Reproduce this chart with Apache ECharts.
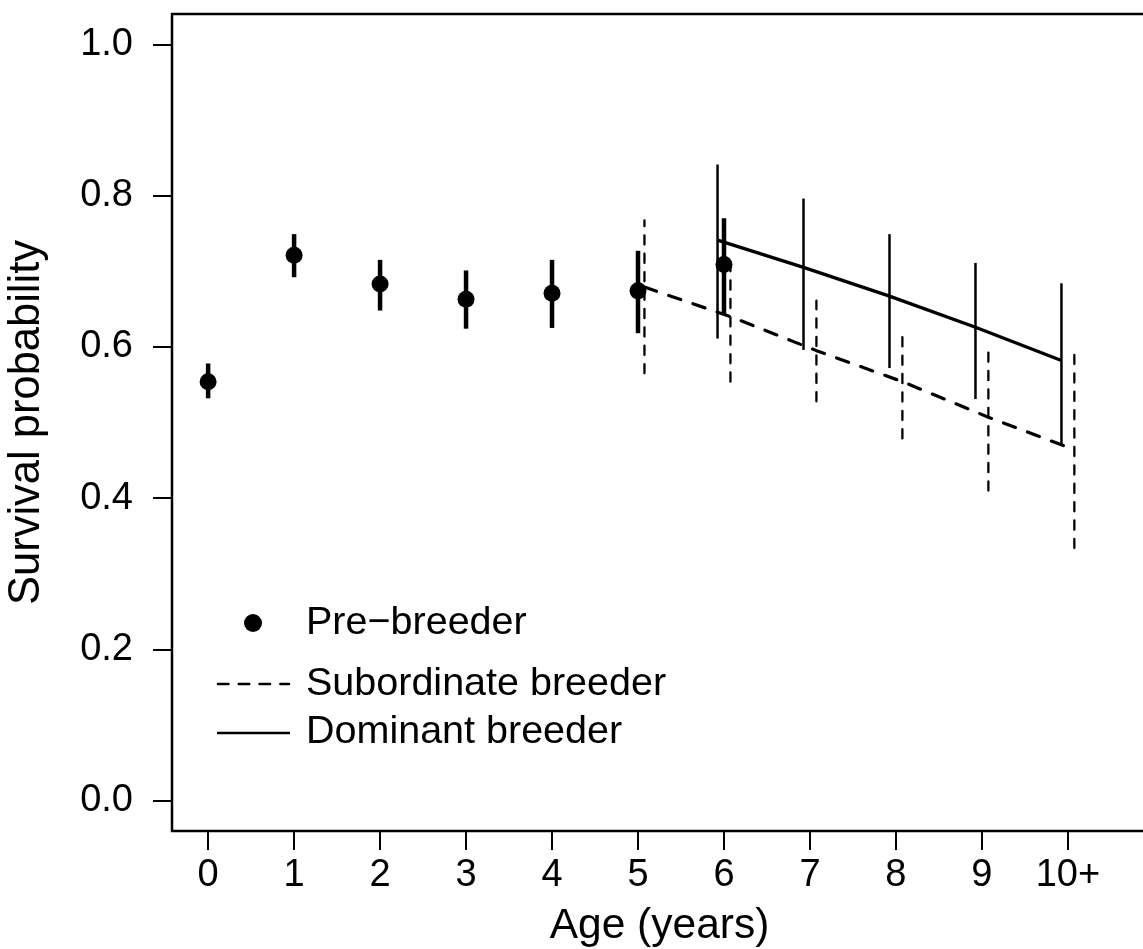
<!DOCTYPE html>
<html>
<head>
<meta charset="utf-8">
<script src="https://cdn.jsdelivr.net/npm/echarts@6/dist/echarts.min.js"></script>
<style>
  html, body { margin: 0; padding: 0; background: #fff; }
  #chart { width: 1143px; height: 949px; }
</style>
</head>
<body>
<div id="chart"></div>
<script>
// Age classes (10 = "10+")
const ages = [0, 1, 2, 3, 4, 5, 6, 7, 8, 9, 10];
const ageLabels = ['0', '1', '2', '3', '4', '5', '6', '7', '8', '9', '10+'];
const yTicks = [0, 0.2, 0.4, 0.6, 0.8, 1.0];

// Pre-breeder survival (ages 0-6) with 95% intervals
const preAges = [0, 1, 2, 3, 4, 5, 6];
const preMean = [0.554, 0.721, 0.683, 0.663, 0.671, 0.674, 0.709];
const preLow  = [0.532, 0.692, 0.648, 0.624, 0.625, 0.618, 0.643];
const preHigh = [0.578, 0.749, 0.715, 0.701, 0.715, 0.727, 0.770];

// Subordinate breeder survival (ages 5-10+)
const subAges = [5, 6, 7, 8, 9, 10];
const subMean = [0.679, 0.640, 0.595, 0.554, 0.507, 0.464];
const subLow  = [0.565, 0.554, 0.528, 0.479, 0.410, 0.334];
const subHigh = [0.767, 0.705, 0.661, 0.618, 0.604, 0.593];

// Dominant breeder survival (ages 6-10+)
const domAges = [6, 7, 8, 9, 10];
const domMean = [0.741, 0.705, 0.667, 0.626, 0.582];
const domLow  = [0.611, 0.596, 0.572, 0.531, 0.469];
const domHigh = [0.841, 0.796, 0.749, 0.711, 0.684];

// horizontal dodge so the breeder classes do not overlap
const DODGE = 0.075;
const FONT = 'Liberation Sans, Arial, sans-serif';
const LEGEND_FONT = '39.5px ' + FONT;

function errorBars(xs, lo, hi, shift, width, dash) {
  return {
    type: 'custom',
    data: xs.map((x, i) => [x + shift, lo[i], hi[i]]),
    encode: { x: 0, y: [1, 2] },
    silent: true,
    renderItem: function (params, api) {
      const a = api.coord([api.value(0), api.value(1)]);
      const b = api.coord([api.value(0), api.value(2)]);
      return {
        type: 'line',
        shape: { x1: a[0], y1: a[1], x2: b[0], y2: b[1] },
        style: {
          stroke: '#000',
          lineWidth: width,
          lineDash: dash || null,
          lineCap: dash ? 'round' : 'butt'
        }
      };
    }
  };
}

const chart = echarts.init(document.getElementById('chart'), null, { renderer: 'canvas' });

const option = {
  animation: false,
  backgroundColor: '#fff',
  grid: {
    left: 172, top: 14, width: 975, height: 817,
    outerBoundsMode: 'none',
    containLabel: false,
    show: true, borderColor: '#000', borderWidth: 2.5, backgroundColor: 'transparent'
  },
  xAxis: {
    type: 'value',
    min: -0.42, max: 10.92,
    axisLine: { show: false, onZero: false },
    splitLine: { show: false },
    axisTick: { show: true, length: 19, lineStyle: { color: '#000', width: 2 }, customValues: ages },
    axisLabel: {
      customValues: ages,
      margin: 26,
      color: '#000', fontFamily: FONT, fontSize: 38,
      formatter: v => ageLabels[ages.indexOf(Math.round(v))]
    },
    name: 'Age (years)',
    nameLocation: 'middle',
    nameGap: 74,
    nameTextStyle: { color: '#000', fontFamily: FONT, fontSize: 42.5 }
  },
  yAxis: {
    type: 'value',
    min: -0.04, max: 1.04,
    axisLine: { show: false, onZero: false },
    splitLine: { show: false },
    axisTick: { show: true, length: 19, lineStyle: { color: '#000', width: 2 }, customValues: yTicks },
    axisLabel: {
      customValues: yTicks,
      margin: 39,
      color: '#000', fontFamily: FONT, fontSize: 38,
      formatter: v => v.toFixed(1)
    },
    name: 'Survival probability',
    nameLocation: 'middle',
    nameGap: 123,
    nameRotate: 90,
    nameTextStyle: { color: '#000', fontFamily: FONT, fontSize: 43.5 }
  },
  series: [
    errorBars(preAges, preLow, preHigh, 0, 4.5),
    {
      type: 'scatter',
      name: 'Pre-breeder',
      data: preAges.map((x, i) => [x, preMean[i]]),
      symbol: 'circle',
      symbolSize: 17,
      itemStyle: { color: '#000', opacity: 1 },
      silent: true
    },
    errorBars(subAges, subLow, subHigh, DODGE, 2.3, [9.2, 9.2]),
    {
      type: 'line',
      name: 'Subordinate breeder',
      data: subAges.map((x, i) => [x + DODGE, subMean[i]]),
      showSymbol: false,
      symbol: 'none',
      lineStyle: { color: '#000', width: 3.2, type: [12.8, 12.8], cap: 'round' },
      silent: true
    },
    errorBars(domAges, domLow, domHigh, -DODGE, 2.5),
    {
      type: 'line',
      name: 'Dominant breeder',
      data: domAges.map((x, i) => [x - DODGE, domMean[i]]),
      showSymbol: false,
      symbol: 'none',
      lineStyle: { color: '#000', width: 3.3 },
      silent: true
    }
  ],
  graphic: [
    { type: 'circle', shape: { cx: 253, cy: 623, r: 9 }, style: { fill: '#000' } },
    { type: 'text', left: 306, top: 624 - 21, style: { text: 'Pre\u2212breeder', font: LEGEND_FONT, fill: '#000' } },
    { type: 'line', shape: { x1: 218, y1: 684, x2: 289, y2: 684 },
      style: { stroke: '#000', lineWidth: 2.6, lineDash: [10.4, 10.4], lineCap: 'round' } },
    { type: 'text', left: 306, top: 685 - 21, style: { text: 'Subordinate breeder', font: LEGEND_FONT, fill: '#000' } },
    { type: 'line', shape: { x1: 217, y1: 733, x2: 290, y2: 733 },
      style: { stroke: '#000', lineWidth: 2.6 } },
    { type: 'text', left: 306, top: 733 - 21, style: { text: 'Dominant breeder', font: LEGEND_FONT, fill: '#000' } }
  ]
};

chart.setOption(option);
</script>
</body>
</html>
